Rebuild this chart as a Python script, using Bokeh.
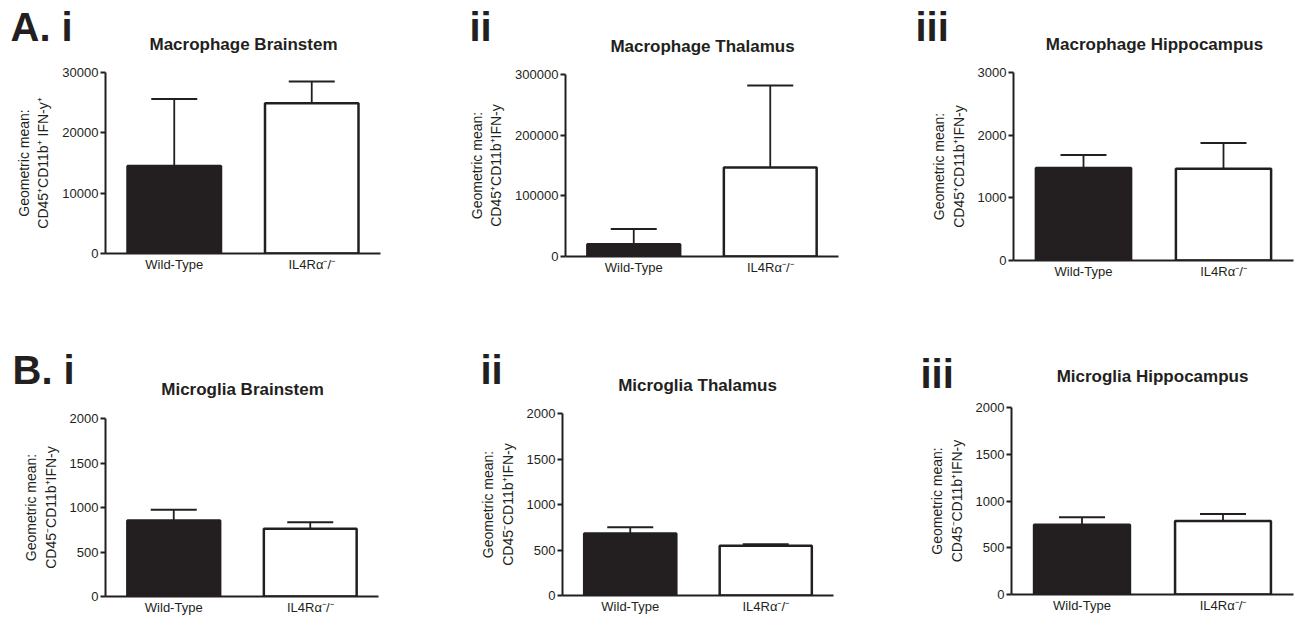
from bokeh.plotting import figure
from bokeh.models import (FactorRange, Range1d, FixedTicker, PrintfTickFormatter,
                          Whisker, TeeHead, ColumnDataSource)
from bokeh.layouts import row, column
from bokeh.embed import file_html
from bokeh.resources import INLINE
from bokeh.core.properties import value

# ---------------- data ----------------
groups = ["Wild-Type", "IL4Rα⁻/⁻"]

panel_tags = ["A. i", "ii", "iii", "B. i", "ii", "iii"]
titles = ["Macrophage Brainstem", "Macrophage Thalamus", "Macrophage Hippocampus",
          "Microglia Brainstem", "Microglia Thalamus", "Microglia Hippocampus"]
ylabels = ["Geometric mean:\nCD45⁺CD11b⁺ IFN-y⁺",
           "Geometric mean:\nCD45⁺CD11b⁺IFN-y",
           "Geometric mean:\nCD45⁺CD11b⁺IFN-y",
           "Geometric mean:\nCD45⁻CD11b⁺IFN-y",
           "Geometric mean:\nCD45⁻CD11b⁺IFN-y",
           "Geometric mean:\nCD45⁻CD11b⁺IFN-y"]

mac_brainstem_mean = [14500, 24900]
mac_brainstem_sem = [11100, 3600]
mac_thalamus_mean = [20000, 146500]
mac_thalamus_sem = [25500, 135500]
mac_hippocampus_mean = [1475, 1465]
mac_hippocampus_sem = [210, 410]
mic_brainstem_mean = [855, 760]
mic_brainstem_sem = [120, 75]
mic_thalamus_mean = [680, 547]
mic_thalamus_sem = [70, 15]
mic_hippocampus_mean = [745, 785]
mic_hippocampus_sem = [80, 75]

means = [mac_brainstem_mean, mac_thalamus_mean, mac_hippocampus_mean,
         mic_brainstem_mean, mic_thalamus_mean, mic_hippocampus_mean]
sems = [mac_brainstem_sem, mac_thalamus_sem, mac_hippocampus_sem,
        mic_brainstem_sem, mic_thalamus_sem, mic_hippocampus_sem]

y_ticks = [[0, 10000, 20000, 30000],
           [0, 100000, 200000, 300000],
           [0, 1000, 2000, 3000],
           [0, 500, 1000, 1500, 2000],
           [0, 500, 1000, 1500, 2000],
           [0, 500, 1000, 1500, 2000]]

bar_colors = ["#231f20", "#ffffff"]

# ---------------- layout geometry (page pixels) ----------------
col_widths = [430, 430, 434]
row_heights = [320, 297]
header_heights = [62, 62, 62, 84, 82, 78]
# plot frame borders inside each plot canvas: (left, right, top, bottom)
borders = [(105, 50, 10, 67), (135, 22, 12, 64), (153, 1, 10, 60),
           (105, 52, 14, 19), (132, 27, 11, 22), (151, 1, 9, 23)]
# header text positions: title (center x, baseline y), tag (left x, baseline y)
title_pos = [(243, 51), (272, 53), (294, 51), (242, 76), (267, 72), (292, 63)]
tag_pos = [(10, 42), (39, 42), (55, 42), (12, 65), (50, 65), (60, 69)]
TITLE_SIZE = 17
TAG_SIZE = 40
BASE_SHIFT = 0.39  # text anchor offset (fraction of font size) above the baseline

INK = "#231f20"
FONT = "Liberation Sans"


def make_header(i, w, h):
    hp = figure(width=w, height=h, x_range=Range1d(0, w), y_range=Range1d(h, 0),
                output_backend="svg", toolbar_location=None,
                x_axis_type=None, y_axis_type=None, frame_align=False,
                min_border_left=0, min_border_right=0,
                min_border_top=0, min_border_bottom=0)
    hp.outline_line_color = None
    hp.xgrid.visible = False
    hp.ygrid.visible = False
    tx, ty = title_pos[i]
    hp.text(x=[tx], y=[ty - BASE_SHIFT * TITLE_SIZE], text=[titles[i]],
            text_align="center", text_baseline="alphabetic", text_font=value(FONT),
            text_font_size=value(f"{TITLE_SIZE}px"), text_font_style="bold",
            text_color=INK)
    gx, gy = tag_pos[i]
    hp.text(x=[gx], y=[gy - BASE_SHIFT * TAG_SIZE], text=[panel_tags[i]],
            text_align="left", text_baseline="alphabetic", text_font=value(FONT),
            text_font_size=value(f"{TAG_SIZE}px"), text_font_style="bold",
            text_color=INK)
    return hp


def make_panel(i):
    w = col_widths[i % 3]
    hh = header_heights[i]
    h = row_heights[i // 3] - hh
    bl, br, bt, bb = borders[i]
    p = figure(width=w, height=h,
               x_range=FactorRange(*groups, range_padding=0),
               y_range=Range1d(0, y_ticks[i][-1]),
               output_backend="svg", toolbar_location=None, frame_align=False,
               min_border_left=bl, min_border_right=br,
               min_border_top=bt, min_border_bottom=bb)
    p.outline_line_color = None
    p.xgrid.visible = False
    p.ygrid.visible = False
    p.background_fill_color = "white"

    top = [m + s for m, s in zip(means[i], sems[i])]
    src = ColumnDataSource(dict(g=groups, m=means[i], u=top, c=bar_colors))
    p.vbar(x="g", top="m", width=0.68, source=src, fill_color="c",
           line_color=INK, line_width=2.5)
    wk = Whisker(base="g", lower="m", upper="u", source=src, dimension="height",
                 line_color=INK, line_width=1.8,
                 upper_head=TeeHead(size=46, line_color=INK, line_width=2),
                 lower_head=None)
    p.add_layout(wk)

    for ax in (p.xaxis[0], p.yaxis[0]):
        ax.axis_line_width = 2
        ax.axis_line_color = INK
        ax.major_label_text_font = FONT
        ax.major_label_text_font_size = "13px"
        ax.major_label_text_color = INK
        ax.minor_tick_line_color = None
    p.xaxis.major_tick_line_color = None
    p.xaxis.major_tick_out = 0
    p.xaxis.major_tick_in = 0
    p.xaxis.major_label_standoff = 3
    p.xaxis.axis_label_standoff = 0
    p.yaxis.ticker = FixedTicker(ticks=y_ticks[i])
    p.yaxis.formatter = PrintfTickFormatter(format="%d")
    p.yaxis.major_tick_out = 5
    p.yaxis.major_tick_in = 0
    p.yaxis.major_tick_line_width = 2
    p.yaxis.major_tick_line_color = INK
    p.yaxis.major_label_standoff = 2
    p.yaxis.axis_label = ylabels[i]
    p.yaxis.axis_label_text_font = FONT
    p.yaxis.axis_label_text_font_size = "14px"
    p.yaxis.axis_label_text_font_style = "normal"
    p.yaxis.axis_label_text_color = INK
    p.yaxis.axis_label_standoff = 8
    return column(make_header(i, w, hh), p)


panels = [make_panel(i) for i in range(6)]
layout = column(row(*panels[:3]), row(*panels[3:]))

open("out.html", "w").write(file_html(layout, INLINE))
